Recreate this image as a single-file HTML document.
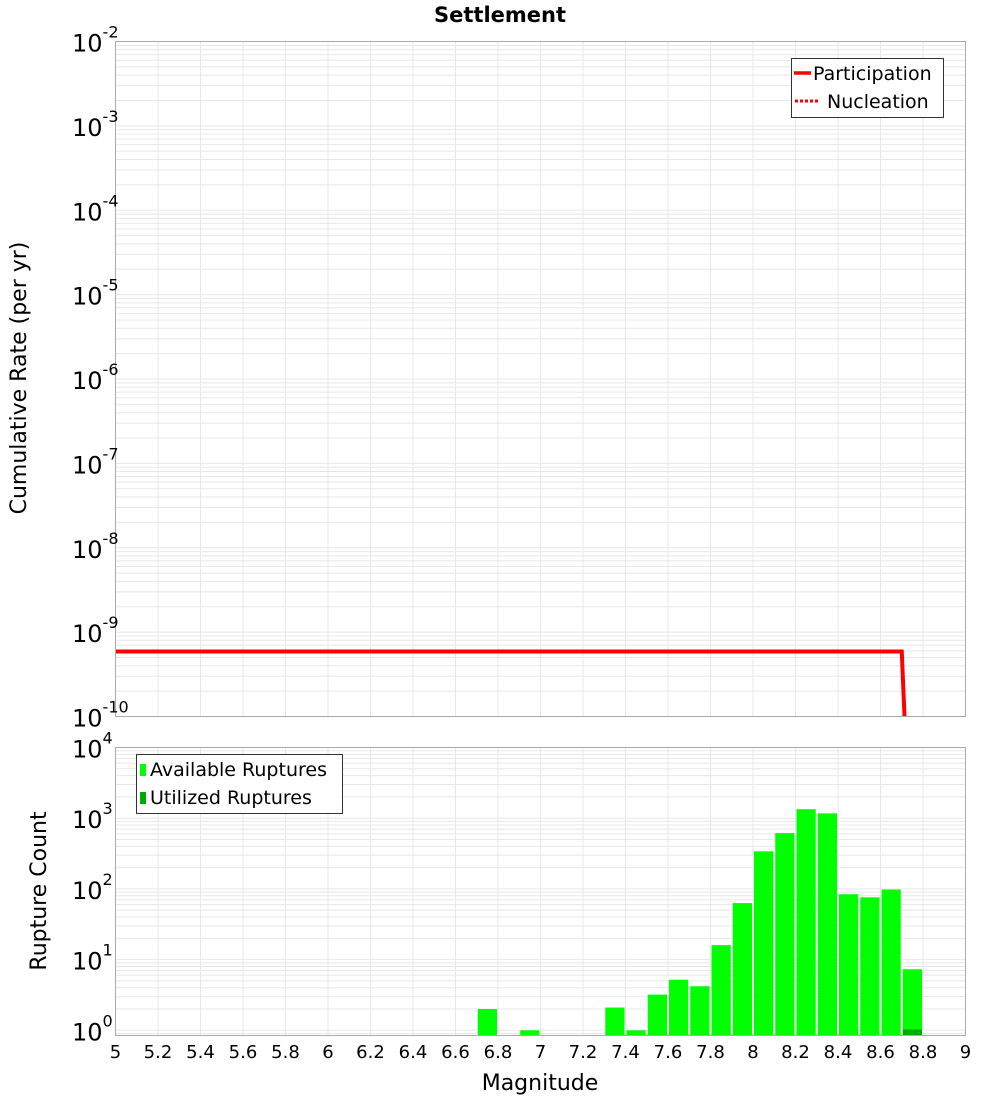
<!DOCTYPE html>
<html><head><meta charset="utf-8"><style>
body{margin:0;background:#fff;width:1000px;height:1100px;overflow:hidden}
svg{display:block;font-family:"DejaVu Sans","Liberation Sans",sans-serif}
</style></head><body>
<svg id="c" width="1000" height="1100" xmlns="http://www.w3.org/2000/svg">
<text x="500" y="22" text-anchor="middle" font-size="21" font-weight="bold">Settlement</text>
<g id="topg"></g>
<g id="botg"></g>
<text transform="translate(26,378) rotate(-90)" text-anchor="middle" font-size="22">Cumulative Rate (per yr)</text>
<text transform="translate(46,891) rotate(-90)" text-anchor="middle" font-size="22">Rupture Count</text>
<text x="540" y="1090" text-anchor="middle" font-size="22">Magnitude</text>
<g>
<rect x="791.5" y="58.5" width="152" height="59" fill="#fff" stroke="#333"/>
<line x1="794" y1="73" x2="811" y2="73" stroke="red" stroke-width="3.5"/>
<text x="813" y="80" font-size="19">Participation</text>
<line x1="795" y1="101" x2="820" y2="101" stroke="red" stroke-width="3" stroke-dasharray="3,2"/>
<text x="827" y="108" font-size="19">Nucleation</text>
</g>
<g>
<rect x="136.5" y="754.5" width="206" height="59" fill="#fff" stroke="#333"/>
<rect x="140" y="764" width="6" height="12" fill="#00ff00"/>
<text x="150" y="776" font-size="19">Available Ruptures</text>
<rect x="140" y="792" width="6" height="12" fill="#00aa00"/>
<text x="150" y="804" font-size="19">Utilized Ruptures</text>
</g>
</svg>
<script>
const xTicks=[5,5.2,5.4,5.6,5.8,6,6.2,6.4,6.6,6.8,7,7.2,7.4,7.6,7.8,8,8.2,8.4,8.6,8.8,9];
const rateExp=[-2,-3,-4,-5,-6,-7,-8,-9,-10];
const countExp=[4,3,2,1,0];
const partMag=[5,8.7,8.73];
const partRate=[5.9e-10,5.9e-10,1e-11];
const binMag=[6.75,6.95,7.35,7.45,7.55,7.65,7.75,7.85,7.95,8.05,8.15,8.25,8.35,8.45,8.55,8.65,8.75];
const availCount=[2,1,2.1,1,3.2,5.2,4.2,16,63,340,615,1340,1170,84,76,98,7.3];
const usedCount=[0,0,0,0,0,0,0,0,0,0,0,0,0,0,0,0,1];

const NS="http://www.w3.org/2000/svg";
const L=115.5,R=965.5;
const X=m=>L+(m-5)/4*(R-L);
const T1=41.5,B1=716.5;
const Y1=v=>T1+(-2-Math.log10(v))/8*(B1-T1);
const T2=747.5,B2=1035.5,D2=70.7;
const Y2=v=>T2+(4-Math.log10(v))*D2;
function mk(p,t,a){const e=document.createElementNS(NS,t);for(const k in a)e.setAttribute(k,a[k]);p.appendChild(e);return e;}
const gTop=document.getElementById('topg'),gBot=document.getElementById('botg');

function grid(g,T,B,Yf,exps){
  for(const m of xTicks){const l=mk(g,'line',{x1:X(m),x2:X(m),y1:T,y2:B,stroke:'#e8e8e8'});
  
  }
  for(const e of exps){for(let k=1;k<10;k++){const y=Yf(k*Math.pow(10,e));if(y<T-0.5||y>B+0.5)continue;
    const l=mk(g,'line',{x1:L,x2:R,y1:y,y2:y,stroke:'#e8e8e8'});
    
    }}
}
grid(gTop,T1,B1,Y1,[-3,-4,-5,-6,-7,-8,-9,-10]);
grid(gBot,T2,B2,Y2,[3,2,1,0,-1]);

let d='';partMag.forEach((m,i)=>{let y=Math.min(Y1(partRate[i]),B1);let x=X(m);
 if(Y1(partRate[i])>B1&&i>0){const y0=Y1(partRate[i-1]),x0=X(partMag[i-1]);x=x0+(x-x0)*(B1-y0)/(Y1(partRate[i])-y0);}
 d+=(i?'L':'M')+x+' '+y;});
const pl=mk(gTop,'path',{d:d,fill:'none',stroke:'red','stroke-width':4});



const bw=(X(0.1)-X(0))-2;
binMag.forEach((m,i)=>{
 const x=X(m)-bw/2,y=Y2(availCount[i]);
 const r=mk(gBot,'rect',{x:x,y:y,width:bw,height:B2-y,fill:'#00ff00'});
 
 
 if(usedCount[i]>0){const yu=Math.min(Y2(usedCount[i]),B2-6);
  const u=mk(gBot,'rect',{x:x,y:yu,width:bw,height:B2-yu,fill:'#00aa00'});
  
  }
});

mk(gTop,'rect',{x:L,y:T1,width:R-L,height:B1-T1,fill:'none',stroke:'#aaa'});
mk(gBot,'rect',{x:L,y:T2,width:R-L,height:B2-T2,fill:'none',stroke:'#aaa'});

function expLabel(g,y,e,name){
 const t=mk(g,'text',{x:72,y:y+10,'font-size':24});
 
 
 t.textContent='10';
 const s=mk(t,'tspan',{dy:-14,'font-size':16});s.textContent=String(e);
}
rateExp.forEach(e=>expLabel(gTop,Y1(Math.pow(10,e)),e,'rate-tick-label'));
countExp.forEach(e=>expLabel(gBot,Y2(Math.pow(10,e)),e,'count-tick-label'));
xTicks.forEach(m=>{const t=mk(gBot,'text',{x:X(m),y:1058,'text-anchor':'middle','font-size':18});
 
 
 t.textContent=String(m);});
</script>
</body></html>
